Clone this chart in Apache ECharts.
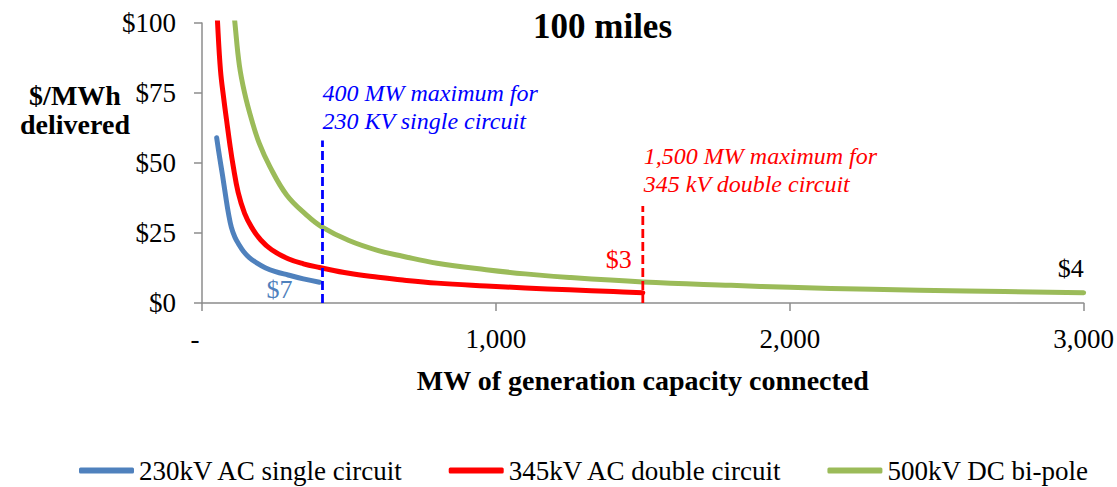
<!DOCTYPE html>
<html><head><meta charset="utf-8">
<script src="https://cdn.jsdelivr.net/npm/echarts@6/dist/echarts.min.js"></script>
<style>html,body{margin:0;padding:0;background:#fff}#c{width:1117px;height:487px}</style>
</head><body><div id="c"></div>
<script>
// ---- data ----
const mw230   = [50, 60, 70, 80, 90, 100, 112, 125, 140, 160, 185, 215, 250, 293, 345, 400];
const cost230 = [59, 52, 45.5, 38.5, 32, 27, 23.5, 21, 18.6, 16.3, 14.4, 12.6, 11.2, 10, 8.6, 7.4];

const mw345   = [45, 53, 63, 74, 84, 95, 106, 123, 145, 169, 200, 237, 293, 345, 400, 500, 600, 683, 800, 967, 1100, 1250, 1400, 1500];
const cost345 = [118, 100, 83, 73, 65, 56.5, 49, 39.5, 32, 27, 22.5, 19, 15.8, 14, 12.7, 10.6, 9.2, 8.2, 7.1, 6.1, 5.4, 4.7, 4.1, 3.7];

const mw500   = [95, 112, 127, 145, 169, 195, 231, 288, 356, 406, 500, 600, 683, 800, 967, 1100, 1250, 1500, 1800, 2000, 2280, 2600, 3000];
const cost500 = [118, 100, 85, 75, 65.4, 57, 48.7, 38.6, 31.4, 27.3, 22.3, 18.7, 16.7, 14.2, 11.9, 10.4, 9.1, 7.5, 6.3, 5.6, 4.9, 4.3, 3.7];

const limit230MW = [410, 410];
const limit230Cost = [0, 58];
const limit345MW = [1500, 1500];
const limit345Cost = [0, 34.6];

const seriesNames = ['230kV AC single circuit', '345kV AC double circuit', '500kV DC bi-pole'];
const endValueLabels = ['$7', '$3', '$4'];
const limitNotes = ['400 MW maximum for\n230 KV single circuit', '1,500 MW maximum for\n345 kV double circuit'];
const xTickLabels = ['-', '1,000', '2,000', '3,000'];
const yTickLabels = ['$0', '$25', '$50', '$75', '$100'];
const titleText = '100 miles';
const yTitleText = '$/MWh\ndelivered';
const xTitleText = 'MW of generation capacity connected';

// ---- chart ----
const F = "'Liberation Serif', 'Times New Roman', serif";
const zip = (xs, ys) => xs.map((x, i) => [x, ys[i]]);
const chart = echarts.init(document.getElementById('c'), null, {renderer: 'svg'});

function curve(name, xs, ys, color, lbl, lblColor, lblOpt) {
  return {
    name: name, type: 'line', data: zip(xs, ys), symbol: 'none', showSymbol: false,
    smooth: 0.4, clip: true, z: 3,
    lineStyle: {color: color, width: 5, cap: 'round', join: 'round'},
    itemStyle: {color: color},
    endLabel: Object.assign({show: true, formatter: lbl, color: lblColor, fontSize: 26, fontFamily: F, distance: 0}, lblOpt)
  };
}
function limit(name, xs, ys, color, note, noteOpt) {
  return {
    name: name, type: 'line', data: zip(xs, ys), symbol: 'none', showSymbol: false, z: 4,
    lineStyle: {color: color, width: 2.8, type: [9, 4]},
    itemStyle: {color: color},
    endLabel: Object.assign({show: true, formatter: note, color: color, fontSize: 24, fontStyle: 'italic',
      fontFamily: F, lineHeight: 28, distance: 0, align: 'left', verticalAlign: 'bottom'}, noteOpt)
  };
}

chart.setOption({
  animation: false,
  backgroundColor: '#fff',
  title: [
    {text: titleText, left: 528, top: 4, textStyle: {fontFamily: F, fontSize: 35, fontWeight: 'bold', color: '#000'}},
    {text: yTitleText, left: 70, top: 76, textAlign: 'center',
      textStyle: {fontFamily: F, fontSize: 28, fontWeight: 'bold', color: '#000', lineHeight: 29, align: 'center'}}
  ],
  grid: {left: 202, right: 32, top: 23, bottom: 184, containLabel: false},
  legend: {
    data: seriesNames, left: 74, top: 452, itemWidth: 55, itemHeight: 6, itemGap: 45,
    icon: 'roundRect',
    textStyle: {fontFamily: F, fontSize: 27, color: '#000'}
  },
  xAxis: {
    type: 'value', min: 0, max: 3000, interval: 1000,
    name: xTitleText, nameLocation: 'middle', nameGap: 63,
    nameTextStyle: {fontFamily: F, fontSize: 28, fontWeight: 'bold', color: '#000'},
    axisLine: {show: true, lineStyle: {color: '#8c8c8c', width: 1.5}},
    axisTick: {show: true, length: 8, lineStyle: {color: '#8c8c8c', width: 1.5}},
    splitLine: {show: false},
    axisLabel: {
      margin: 22, fontFamily: F, fontSize: 27, color: '#000',
      formatter: v => { const t = xTickLabels[Math.round(v / 1000)]; return v === 0 ? '{d|' + t + '}' : t; },
      rich: {d: {fontFamily: F, fontSize: 27, color: '#000', padding: [0, 14, 0, 0]}}
    }
  },
  yAxis: {
    type: 'value', min: 0, max: 100, interval: 25,
    axisLine: {show: true, lineStyle: {color: '#8c8c8c', width: 1.5}},
    axisTick: {show: true, length: 8, lineStyle: {color: '#8c8c8c', width: 1.5}},
    splitLine: {show: false},
    axisLabel: {margin: 26, fontFamily: F, fontSize: 27, color: '#000',
      formatter: v => yTickLabels[Math.round(v / 25)]}
  },
  series: [
    curve(seriesNames[0], mw230, cost230, '#4F81BD', endValueLabels[0], '#4F81BD', {align: 'right', verticalAlign: 'middle', offset: [-27, 7]}),
    curve(seriesNames[1], mw345, cost345, '#FF0000', endValueLabels[1], '#FF0000', {align: 'right', verticalAlign: 'bottom', offset: [-11, -20]}),
    curve(seriesNames[2], mw500, cost500, '#9BBB59', endValueLabels[2], '#000000', {align: 'right', verticalAlign: 'bottom', offset: [0, -11]}),
    limit('limit230', limit230MW, limit230Cost, '#0000FF', limitNotes[0], {offset: [0, -6]}),
    limit('limit345', limit345MW, limit345Cost, '#FF0000', limitNotes[1], {offset: [1, -8]})
  ]
});
</script></body></html>
